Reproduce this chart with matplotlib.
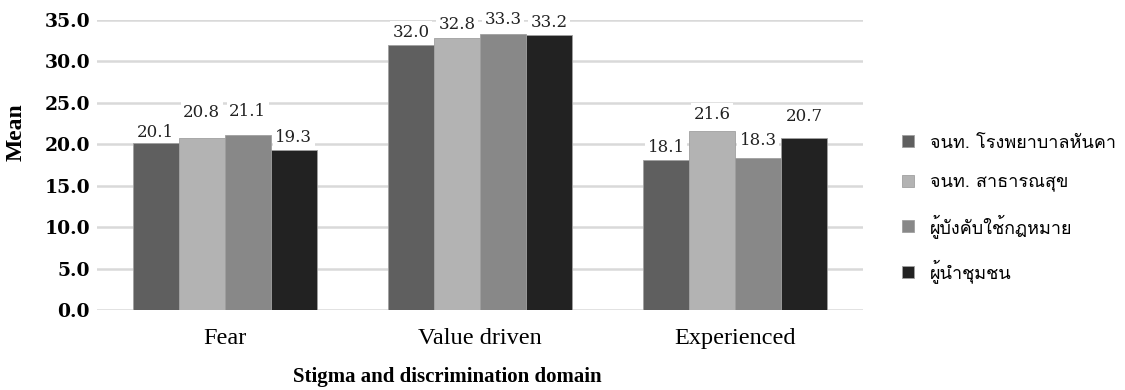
import numpy as np
import matplotlib
matplotlib.use("Agg")
import matplotlib.pyplot as plt

# ========== Data ==========
domains = ["Fear", "Value driven", "Experienced"]
groups = ["จนท. โรงพยาบาลหันคา", "จนท. สาธารณสุข", "ผู้บังคับใช้กฎหมาย", "ผู้นำชุมชน"]
hospital_staff = [20.1, 32.0, 18.1]
health_staff = [20.8, 32.8, 21.6]
law_enforcers = [21.1, 33.3, 18.3]
community_leaders = [19.3, 33.2, 20.7]
y_ticks = [0, 5, 10, 15, 20, 25, 30, 35]

# ========== Style ==========
colors = ["#5f5f5f", "#b3b3b3", "#888888", "#222222"]
# extra lift (points) of each value label above its bar, per series / domain
label_lift = [[0, 1, 1], [10, 2, 4], [9, 2, 5], [1, 1, 8]]

fig = plt.figure(figsize=(11.25, 3.9), dpi=100)
ax = fig.add_axes([0.0862, 0.205, 0.6809, 0.744])

series = [hospital_staff, health_staff, law_enforcers, community_leaders]
x = np.arange(len(domains))
width = 0.18
for i, (vals, lab, col) in enumerate(zip(series, groups, colors)):
    pos = x + (i - 1.5) * width
    bars = ax.bar(pos, vals, width, color=col, edgecolor="#a0a0a0",
                  linewidth=0.6, label=lab, zorder=3)
    for j, (b, v) in enumerate(zip(bars, vals)):
        ax.annotate(f"{v:.1f}", (b.get_x() + b.get_width() / 2, v),
                    xytext=(0, 2 + label_lift[i][j]), textcoords="offset points",
                    ha="center", va="bottom", fontsize=12,
                    family="DejaVu Serif", color="#222222", zorder=4,
                    bbox=dict(boxstyle="square,pad=0.15", fc="white", ec="none"))

ax.set_xlim(-0.5, 2.5)
ax.set_ylim(0, 35)
ax.set_yticks(y_ticks)
ax.set_yticklabels([f"{t:.1f}" for t in y_ticks], family="DejaVu Serif",
                   fontweight="bold", fontsize=13.5)
ax.set_xticks(x)
ax.set_xticklabels(domains, family="Liberation Serif", fontsize=17.5)
ax.tick_params(axis="both", length=0)
ax.tick_params(axis="y", pad=5)
ax.tick_params(axis="x", pad=13)
ax.grid(axis="y", color="#d9d9d9", linewidth=1.8, zorder=0)
for s in ax.spines.values():
    s.set_visible(False)

ax.set_ylabel("Mean", family="Liberation Serif", fontweight="bold",
              fontsize=17)
ax.yaxis.set_label_coords(-0.092, 0.614)
ax.set_xlabel("Stigma and discrimination domain", family="Liberation Serif",
              fontweight="bold", fontsize=15)
ax.xaxis.set_label_coords(0.458, -0.195)

ax.legend(loc="center left", bbox_to_anchor=(1.03, 0.35), frameon=False,
          prop={"family": ["Loma", "DejaVu Sans"], "size": 13},
          handlelength=0.65, handleheight=0.65, labelspacing=1.2,
          handletextpad=0.9)

fig.savefig("out.png", dpi=100)
